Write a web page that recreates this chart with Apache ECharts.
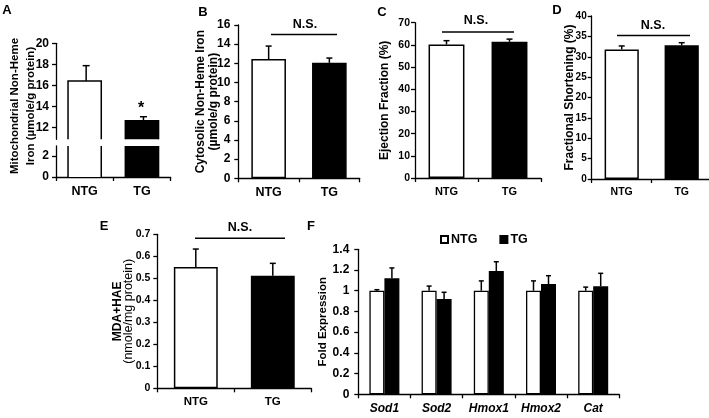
<!DOCTYPE html>
<html>
<head>
<meta charset="utf-8">
<script src="https://cdn.jsdelivr.net/npm/echarts@6.0.0/dist/echarts.min.js"></script>
<style>
  html, body { margin: 0; padding: 0; background: #fff; }
  #chart { width: 709px; height: 418px; }
</style>
</head>
<body>
<div id="chart"></div>
<script>
// data
var groups = ['NTG', 'TG'];
var groupColors = ['#fff', '#000'];

var mitoIron = [16.43, 12.66];      // A
var mitoIronErr = [1.45, 0.38];
var cytoIron = [12.45, 12.05];      // B
var cytoIronErr = [1.35, 0.5];
var ejection = [60.2, 61.4];        // C
var ejectionErr = [1.7, 1.2];
var shortening = [31.8, 32.8];      // D
var shorteningErr = [0.85, 0.65];
var mdaHae = [0.551, 0.512];        // E
var mdaHaeErr = [0.082, 0.056];

var genes = ['Sod1', 'Sod2', 'Hmox1', 'Hmox2', 'Cat'];  // F
var foldNTG = [1.0, 1.0, 1.0, 1.0, 1.0];
var foldNTGErr = [0.01, 0.045, 0.095, 0.095, 0.035];
var foldTG = [1.12, 0.92, 1.19, 1.065, 1.043];
var foldTGErr = [0.1, 0.065, 0.09, 0.08, 0.125];

var aTopTicks = [12, 14, 16, 18, 20];
var aBottomTicks = [0, 2];

var ARIAL = 'Liberation Sans, Arial, sans-serif';
var LW = 1.3;

// axis helpers
function catAxis(grid, data, size, italic, show) {
  return {
    type: 'category', gridIndex: grid, data: data, show: show !== false,
    axisLine: { show: true, lineStyle: { color: '#000', width: LW } },
    axisTick: { show: true, length: 4, lineStyle: { color: '#000', width: LW } },
    axisLabel: {
      color: '#000', fontFamily: ARIAL, fontSize: size, fontWeight: 'bold',
      fontStyle: italic ? 'italic' : 'normal', margin: 8
    },
    splitLine: { show: false }
  };
}

function valAxis(grid, opt) {
  var ax = {
    type: 'value', gridIndex: grid, min: opt.min, max: opt.max,
    axisLine: { show: true, lineStyle: { color: '#000', width: LW } },
    axisTick: { show: true, length: 4, lineStyle: { color: '#000', width: LW } },
    axisLabel: { color: '#000', fontFamily: ARIAL, fontSize: opt.size, fontWeight: 'bold', margin: opt.margin },
    splitLine: { show: false }
  };
  if (opt.interval) ax.interval = opt.interval;
  if (opt.ticks) {
    ax.axisLabel.customValues = opt.ticks;
    ax.axisTick.customValues = opt.ticks;
  }
  if (opt.name) {
    ax.name = opt.name;
    ax.nameLocation = 'middle';
    ax.nameRotate = 90;
    ax.nameGap = opt.nameGap;
    ax.nameMoveOverlap = false;
    ax.nameTextStyle = opt.nameStyle;
  }
  return ax;
}

// simple bar panel (two groups)
function barSeries(grid, vals) {
  return {
    type: 'bar', xAxisIndex: grid, yAxisIndex: grid, barWidth: '57%',
    data: vals.map(function (v, i) {
      return { value: v, itemStyle: { color: groupColors[i] } };
    }),
    itemStyle: { borderColor: '#000', borderWidth: 1.5 }
  };
}

// upper error bar only
function errSeries(grid, vals, errs, offset, cap) {
  return {
    type: 'custom', xAxisIndex: grid, yAxisIndex: grid, z: 3,
    encode: { x: 0, y: 1 },
    data: vals.map(function (v, i) { return [i, v, errs[i]]; }),
    renderItem: function (params, api) {
      var base = api.coord([api.value(0), api.value(1)]);
      var top = api.coord([api.value(0), api.value(1) + api.value(2)]);
      var x = base[0] + offset;
      return {
        type: 'group', children: [
          { type: 'line', shape: { x1: x, y1: base[1], x2: x, y2: top[1] }, style: { stroke: '#000', lineWidth: 1.5 } },
          { type: 'line', shape: { x1: x - cap, y1: top[1], x2: x + cap, y2: top[1] }, style: { stroke: '#000', lineWidth: 1.5 } }
        ]
      };
    }
  };
}

// A: broken axis, bars drawn open at the break
function brokenBar(part) {
  return function (params, api) {
    var cs = params.coordSys;
    var i = api.value(0);
    var w = api.size([1, 0])[0] * 0.58;
    var c = api.coord([i, api.value(1)]);
    var l = c[0] - w / 2, r = c[0] + w / 2;
    var t, b, outline;
    if (part === 'top') {
      t = c[1]; b = cs.y + cs.height;
      outline = [{ type: 'polyline', shape: { points: [[l, b], [l, t], [r, t], [r, b]] }, style: { stroke: '#000', lineWidth: 1.5, fill: null } }];
    } else {
      t = cs.y; b = api.coord([i, 0])[1];
      outline = [
        { type: 'line', shape: { x1: l, y1: t, x2: l, y2: b }, style: { stroke: '#000', lineWidth: 1.5 } },
        { type: 'line', shape: { x1: r, y1: t, x2: r, y2: b }, style: { stroke: '#000', lineWidth: 1.5 } }
      ];
    }
    return {
      type: 'group', children: [
        { type: 'rect', shape: { x: l, y: t, width: w, height: b - t }, style: { fill: groupColors[i] } }
      ].concat(outline)
    };
  };
}

function label(text, x, y, size) {
  return {
    type: 'text', x: x, y: y,
    style: { text: text, fill: '#000', font: 'bold ' + size + 'px ' + ARIAL, textAlign: 'center', textVerticalAlign: 'middle' }
  };
}
function nsLine(x1, x2, y) {
  return { type: 'line', shape: { x1: x1, y1: y, x2: x2, y2: y }, style: { stroke: '#000', lineWidth: 1.5 } };
}

var chart = echarts.init(document.getElementById('chart'));

chart.setOption({
  animation: false,
  backgroundColor: '#fff',
  grid: [
    { left: 56, top: 43.3, width: 114.6, height: 96, outerBoundsMode: 'none' },
    { left: 56, top: 146, width: 114.6, height: 31, outerBoundsMode: 'none' },
    { left: 238.3, top: 25, width: 121.4, height: 153.3, outerBoundsMode: 'none' },
    { left: 415, top: 22.7, width: 126, height: 155.3, outerBoundsMode: 'none' },
    { left: 591.7, top: 16, width: 120, height: 163, outerBoundsMode: 'none' },
    { left: 157.3, top: 234.3, width: 154, height: 154, outerBoundsMode: 'none' },
    { left: 358.3, top: 249.3, width: 261, height: 145, outerBoundsMode: 'none' }
  ],
  legend: {
    data: ['NTG', 'TG'], left: 440, top: 233, icon: 'rect', padding: 0,
    itemWidth: 7, itemHeight: 7, itemGap: 22,
    textStyle: { color: '#000', fontFamily: ARIAL, fontSize: 12.5, fontWeight: 'bold', padding: [0, 0, 0, -2] }
  },
  xAxis: [
    catAxis(0, groups, 12.5, false, false),
    catAxis(1, groups, 12.5),
    catAxis(2, groups, 12.5),
    catAxis(3, groups, 11),
    catAxis(4, groups, 10.5),
    catAxis(5, groups, 11.5),
    catAxis(6, genes, 12, true)
  ],
  yAxis: [
    valAxis(0, { min: 10.9, max: 20, ticks: aTopTicks, size: 12, margin: 7 }),
    valAxis(1, { min: 0, max: 2.92, ticks: aBottomTicks, size: 12, margin: 7 }),
    valAxis(2, { min: 0, max: 16, interval: 2, size: 12, margin: 8,
      name: 'Cytosolic Non-Heme Iron\n(µmole/g protein)', nameGap: 18.5,
      nameStyle: { color: '#000', fontFamily: ARIAL, fontSize: 12, fontWeight: 'bold', lineHeight: 13 } }),
    valAxis(3, { min: 0, max: 70, interval: 10, size: 10.5, margin: 5,
      name: 'Ejection Fraction (%)', nameGap: 24,
      nameStyle: { color: '#000', fontFamily: ARIAL, fontSize: 12, fontWeight: 'bold' } }),
    valAxis(4, { min: 0, max: 40, interval: 5, size: 10, margin: 5,
      name: 'Fractional Shortening (%)', nameGap: 16,
      nameStyle: { color: '#000', fontFamily: ARIAL, fontSize: 12, fontWeight: 'bold' } }),
    valAxis(5, { min: 0, max: 0.7, interval: 0.1, size: 10.5, margin: 7,
      name: '{b|MDA+HAE}\n{r|(nmole/mg protein)}', nameGap: 23,
      nameStyle: { color: '#000', rich: {
        b: { fontFamily: ARIAL, fontSize: 12, fontWeight: 'bold', lineHeight: 11 },
        r: { fontFamily: ARIAL, fontSize: 12.5, fontWeight: 'normal', lineHeight: 11 } } } }),
    valAxis(6, { min: 0, max: 1.4, interval: 0.2, size: 12, margin: 9,
      name: 'Fold Expression', nameGap: 29,
      nameStyle: { color: '#000', fontFamily: ARIAL, fontSize: 11.5, fontWeight: 'bold' } })
  ],
  series: [
    // A
    { type: 'custom', xAxisIndex: 0, yAxisIndex: 0, encode: { x: 0, y: 1 },
      data: mitoIron.map(function (v, i) { return [i, v]; }), renderItem: brokenBar('top') },
    { type: 'custom', xAxisIndex: 1, yAxisIndex: 1, encode: { x: 0, y: 1 },
      data: mitoIron.map(function (v, i) { return [i, v]; }), renderItem: brokenBar('bottom') },
    errSeries(0, mitoIron, mitoIronErr, 1.5, 3.5),
    // B - E
    barSeries(2, cytoIron), errSeries(2, cytoIron, cytoIronErr, 0, 3),
    barSeries(3, ejection), errSeries(3, ejection, ejectionErr, 0, 3),
    barSeries(4, shortening), errSeries(4, shortening, shorteningErr, 0, 3),
    barSeries(5, mdaHae), errSeries(5, mdaHae, mdaHaeErr, 0, 3),
    // F
    { type: 'bar', name: 'NTG', xAxisIndex: 6, yAxisIndex: 6, barWidth: 15, barGap: '0%', data: foldNTG,
      itemStyle: { color: '#fff', borderColor: '#000', borderWidth: 1.3 } },
    { type: 'bar', name: 'TG', xAxisIndex: 6, yAxisIndex: 6, barWidth: 15, barGap: '0%', data: foldTG,
      itemStyle: { color: '#000', borderColor: '#000', borderWidth: 1.3 } },
    errSeries(6, foldNTG, foldNTGErr, -7.5, 2.5),
    errSeries(6, foldTG, foldTGErr, 7.5, 2.5)
  ],
  graphic: [
    label('A', 7, 10, 13),
    label('B', 203, 12, 13),
    label('C', 382, 12, 13),
    label('D', 557, 10, 13),
    label('E', 104, 226, 13),
    label('F', 311, 226, 13),
    {
      type: 'text', x: 23, y: 106, rotation: Math.PI / 2,
      style: { text: 'Mitochondrial Non-Heme\nIron (µmole/g protein)', fill: '#000',
        font: 'bold 11.5px ' + ARIAL, lineHeight: 15.5, textAlign: 'center', textVerticalAlign: 'middle' }
    },
    label('*', 141, 109, 16),
    label('N.S.', 305, 25, 12.5), nsLine(271, 337, 34.5),
    label('N.S.', 476, 21, 12.5), nsLine(442, 514, 32),
    label('N.S.', 653, 26, 12.5), nsLine(617, 690, 35.5),
    label('N.S.', 240, 228, 12.5), nsLine(195, 285, 238.3)
  ]
});
</script>
</body>
</html>
